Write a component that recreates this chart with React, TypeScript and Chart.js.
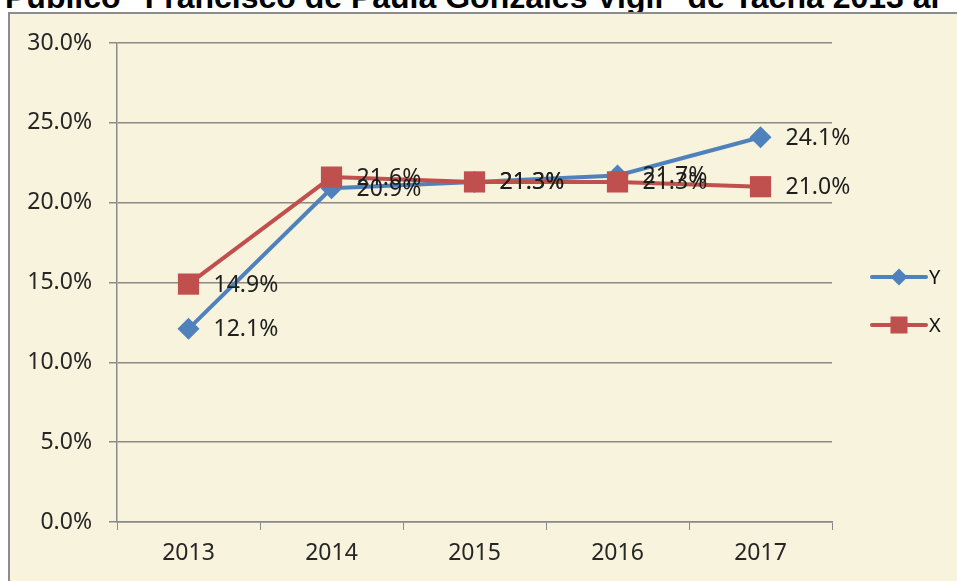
import React, { useEffect, useRef } from "react";
import { Chart, registerables } from "chart.js";

Chart.register(...registerables);

const titleText = "Publico \"Francisco de Paula Gonzales Vigil\" de Tacna 2013 al";
const categories = ["2013", "2014", "2015", "2016", "2017"];
const seriesY = [12.1, 20.9, 21.3, 21.7, 24.1];
const seriesX = [14.9, 21.6, 21.3, 21.3, 21.0];
const yTickMax = 30;
const yTickStep = 5;

const BLUE = "#4F81BD";
const RED = "#C0504D";
const GRID = "#8a8a8a";
const FONT = "'Noto Sans', 'Open Sans', sans-serif";

const labelsPlugin = {
  id: "valueLabels",
  afterDatasetsDraw(chart: any) {
    const ctx = chart.ctx;
    ctx.save();
    ctx.font = `23px ${FONT}`;
    ctx.fillStyle = "#1e1e1e";
    ctx.textAlign = "left";
    ctx.textBaseline = "middle";
    chart.data.datasets.forEach((ds: any, i: number) => {
      const meta = chart.getDatasetMeta(i);
      meta.data.forEach((pt: any, j: number) => {
        ctx.fillText(ds.data[j].toFixed(1) + "%", pt.x + 25, pt.y + 1);
      });
    });
    ctx.restore();
  },
};

const legendPlugin = {
  id: "customLegend",
  afterDraw(chart: any) {
    const ctx = chart.ctx;
    ctx.save();
    const items = [
      { label: "Y", color: BLUE, shape: "diamond", y: 277 },
      { label: "X", color: RED, shape: "square", y: 325 },
    ];
    items.forEach((it) => {
      ctx.strokeStyle = it.color;
      ctx.lineWidth = 4;
      ctx.lineCap = "round";
      ctx.beginPath();
      ctx.moveTo(872, it.y);
      ctx.lineTo(926, it.y);
      ctx.stroke();
      ctx.fillStyle = it.color;
      const cx = 899;
      if (it.shape === "diamond") {
        ctx.beginPath();
        ctx.moveTo(cx - 8.5, it.y);
        ctx.lineTo(cx, it.y - 8.5);
        ctx.lineTo(cx + 8.5, it.y);
        ctx.lineTo(cx, it.y + 8.5);
        ctx.closePath();
        ctx.fill();
      } else {
        ctx.fillRect(cx - 8.5, it.y - 8.5, 17, 17);
      }
      ctx.fillStyle = "#111";
      ctx.font = `20px ${FONT}`;
      ctx.textAlign = "left";
      ctx.textBaseline = "middle";
      ctx.fillText(it.label, 929, it.y + 1);
    });
    ctx.restore();
  },
};

export default function App() {
  const ref = useRef<HTMLCanvasElement>(null);

  useEffect(() => {
    if (!ref.current) return;
    const chart = new Chart(ref.current, {
      type: "line",
      data: {
        labels: categories,
        datasets: [
          {
            label: "Y",
            data: seriesY,
            borderColor: BLUE,
            backgroundColor: BLUE,
            borderWidth: 4,
            pointStyle: "rectRot",
            pointRadius: 11,
            pointBorderWidth: 0,
            pointBackgroundColor: BLUE,
            tension: 0,
            order: 1,
          },
          {
            label: "X",
            data: seriesX,
            borderColor: RED,
            backgroundColor: RED,
            borderWidth: 4,
            pointStyle: "rect",
            pointRadius: 15,
            pointBorderWidth: 0,
            pointBackgroundColor: RED,
            tension: 0,
            order: 0,
          },
        ],
      },
      options: {
        animation: false,
        responsive: false,
        maintainAspectRatio: false,
        layout: { padding: { left: 0, top: 43, right: 125, bottom: 0 } },
        plugins: {
          legend: { display: false },
          tooltip: { enabled: false },
          title: { display: false },
        },
        scales: {
          x: {
            offset: true,
            grid: {
              offset: true,
              drawOnChartArea: false,
              drawTicks: true,
              tickLength: 8,
              color: GRID,
              lineWidth: 1,
            },
            border: { display: true, color: GRID, width: 1.5 },
            ticks: {
              color: "#262626",
              font: { family: FONT, size: 23 },
              padding: 10,
              maxRotation: 0,
            },
            afterFit: (s: any) => {
              s.height = 59;
            },
          },
          y: {
            min: 0,
            max: yTickMax,
            grid: {
              color: GRID,
              lineWidth: 1.5,
              drawTicks: true,
              tickLength: 8,
            },
            border: { display: true, color: GRID, width: 1.5 },
            ticks: {
              stepSize: yTickStep,
              color: "#262626",
              font: { family: FONT, size: 23 },
              padding: 17,
              callback: (v: any) => Number(v).toFixed(1) + "%",
            },
            afterFit: (s: any) => {
              s.width = 117;
            },
          },
        },
      },
      plugins: [labelsPlugin, legendPlugin],
    });
    return () => chart.destroy();
  }, []);

  return (
    <div
      style={{
        position: "fixed",
        left: 0,
        top: 0,
        width: 957,
        height: 581,
        overflow: "hidden",
        background: "#ffffff",
      }}
    >
      <div
        style={{
          position: "absolute",
          left: 5,
          top: -19,
          whiteSpace: "nowrap",
          fontFamily: "'Liberation Sans', Arial, sans-serif",
          fontWeight: "bold",
          fontSize: 32,
          lineHeight: "32px",
          color: "#000",
        }}
      >
        {titleText}
      </div>
      <div
        style={{
          position: "absolute",
          left: 8,
          top: 12,
          width: 1100,
          height: 800,
          border: "2px solid #8c8c8c",
          background: "#F8F3DC",
        }}
      />
      <canvas
        ref={ref}
        width={957}
        height={581}
        style={{ position: "absolute", left: 0, top: 0, width: 957, height: 581 }}
      />
    </div>
  );
}
